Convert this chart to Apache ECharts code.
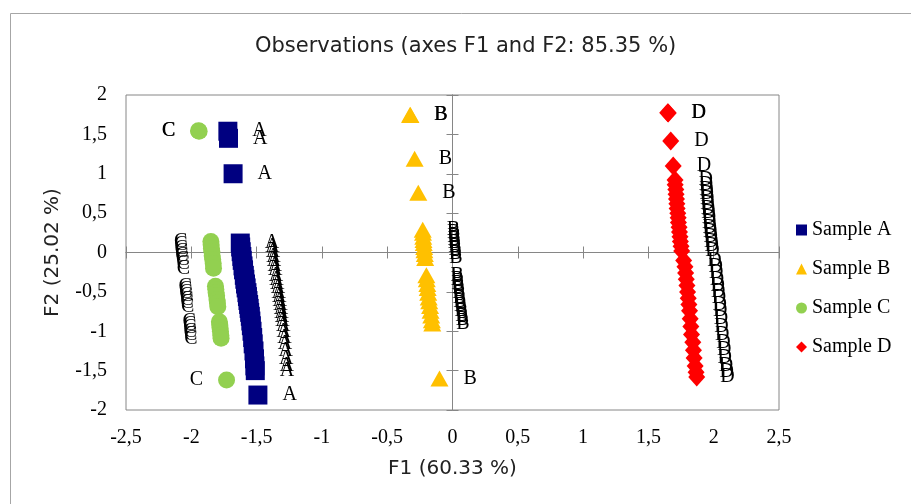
<!DOCTYPE html>
<html>
<head>
<meta charset="utf-8">
<script src="https://cdn.jsdelivr.net/npm/echarts@6/dist/echarts.min.js"></script>
<style>html,body{margin:0;padding:0;background:#fff;}#c{width:911px;height:504px;}</style>
</head>
<body>
<div id="c"></div>
<script>
// ---- data ----
var seriesNames = ['Sample A', 'Sample B', 'Sample C', 'Sample D'];
var pointLabels = ['A', 'B', 'C', 'D'];
var xTicks = [-2.5, -2, -1.5, -1, -0.5, 0, 0.5, 1, 1.5, 2, 2.5];
var yTicks = [-2, -1.5, -1, -0.5, 0, 0.5, 1, 1.5, 2];

var sampleA = [
  [-1.72, 1.54], [-1.715, 1.45], [-1.68, 1.00],
  [-1.625, 0.12], [-1.622, 0.07], [-1.618, 0.01], [-1.613, -0.05], [-1.61, -0.10],
  [-1.604, -0.17], [-1.60, -0.22], [-1.594, -0.29], [-1.59, -0.34], [-1.585, -0.40],
  [-1.58, -0.45], [-1.574, -0.51], [-1.57, -0.56], [-1.566, -0.61], [-1.561, -0.66],
  [-1.557, -0.71], [-1.553, -0.76], [-1.548, -0.81], [-1.544, -0.87], [-1.54, -0.93],
  [-1.535, -1.00], [-1.53, -1.08], [-1.526, -1.16], [-1.52, -1.25], [-1.516, -1.35],
  [-1.513, -1.44], [-1.51, -1.50],
  [-1.49, -1.81]
];
var sampleB = [
  [-0.325, 1.75], [-0.322, 1.745], [-0.29, 1.19], [-0.262, 0.76],
  [-0.228, 0.29], [-0.226, 0.25], [-0.224, 0.20], [-0.222, 0.16], [-0.22, 0.12],
  [-0.217, 0.07], [-0.215, 0.03], [-0.212, -0.02], [-0.209, -0.07],
  [-0.20, -0.29], [-0.197, -0.34], [-0.193, -0.40], [-0.19, -0.45], [-0.186, -0.51],
  [-0.182, -0.57], [-0.178, -0.62], [-0.172, -0.68], [-0.168, -0.74], [-0.163, -0.80],
  [-0.158, -0.86], [-0.155, -0.90],
  [-0.10, -1.60]
];
var sampleC = [
  [-1.945, 1.545], [-1.94, 1.54],
  [-1.85, 0.14], [-1.848, 0.10], [-1.846, 0.05], [-1.842, 0.01], [-1.84, -0.04],
  [-1.836, -0.09], [-1.832, -0.14], [-1.83, -0.20],
  [-1.815, -0.43], [-1.812, -0.47], [-1.81, -0.51], [-1.806, -0.55], [-1.803, -0.60],
  [-1.80, -0.64], [-1.797, -0.69],
  [-1.785, -0.88], [-1.782, -0.92], [-1.78, -0.96], [-1.777, -1.00], [-1.774, -1.05],
  [-1.772, -1.09],
  [-1.73, -1.62]
];
var sampleD = [
  [1.648, 1.775], [1.652, 1.77], [1.671, 1.416], [1.69, 1.10],
  [1.704, 0.92], [1.705, 0.86], [1.71, 0.80], [1.712, 0.74], [1.715, 0.68],
  [1.718, 0.62], [1.72, 0.56], [1.725, 0.50], [1.728, 0.44], [1.73, 0.38],
  [1.735, 0.32], [1.738, 0.26], [1.742, 0.20], [1.745, 0.14], [1.75, 0.08],
  [1.755, 0.02], [1.77, -0.10], [1.78, -0.18], [1.785, -0.26], [1.79, -0.34],
  [1.795, -0.42], [1.80, -0.50], [1.805, -0.58], [1.81, -0.66], [1.815, -0.74],
  [1.82, -0.84], [1.825, -0.94], [1.83, -1.04], [1.84, -1.14], [1.845, -1.24],
  [1.85, -1.34], [1.858, -1.44], [1.865, -1.52], [1.87, -1.58]
];
// ---- end data ----

var serif = 'Liberation Serif';
var sans = 'DejaVu Sans';
var gray = '#868686';
function fmt(v) { return String(v).replace('.', ','); }

function labelAxis(isX) {
  var t = isX ? xTicks : yTicks;
  var a = {
    type: 'value', min: t[0], max: t[t.length - 1], interval: t[1] - t[0],
    position: isX ? 'bottom' : 'left',
    axisLine: { show: false, onZero: false },
    axisTick: { show: false },
    splitLine: { show: false },
    axisLabel: { formatter: fmt, fontFamily: serif, fontSize: 20, color: '#000', margin: isX ? 18 : 19 },
    name: isX ? 'F1 (60.33 %)' : 'F2 (25.02 %)',
    nameLocation: 'middle',
    nameGap: isX ? 49 : 63,
    nameTextStyle: { fontFamily: sans, fontSize: 20, color: '#222' }
  };
  return a;
}
function zeroAxis(isX, pos) {
  var t = isX ? xTicks : yTicks;
  return {
    type: 'value', min: t[0], max: t[t.length - 1], interval: t[1] - t[0],
    position: pos,
    axisLine: { show: true, onZero: true, onZeroAxisIndex: 0, lineStyle: { color: gray, width: 1 } },
    axisTick: { show: true, length: 6, lineStyle: { color: gray, width: 1 } },
    axisLabel: { show: false },
    splitLine: { show: false }
  };
}

var colors = ['#000080', '#FFC000', '#92D050', '#FF0000'];
var symbols = ['rect', 'triangle', 'circle', 'diamond'];
var sizes = [19, [18, 16], 17, [17, 19]];
var datas = [sampleA, sampleB, sampleC, sampleD];

var series = datas.map(function (d, i) {
  return {
    name: seriesNames[i],
    type: 'scatter',
    xAxisIndex: 0, yAxisIndex: 0,
    data: d,
    symbol: symbols[i],
    symbolSize: sizes[i],
    itemStyle: { color: colors[i], opacity: 1 },
    label: {
      show: true,
      position: i === 2 ? 'left' : 'right',
      distance: 15,
      formatter: pointLabels[i],
      fontFamily: serif, fontSize: 20, color: '#000'
    },
    emphasis: { disabled: true },
    z: 3
  };
});

var chart = echarts.init(document.getElementById('c'), null, { renderer: 'canvas' });
chart.setOption({
  animation: false,
  backgroundColor: '#fff',
  title: {
    text: 'Observations (axes F1 and F2: 85.35 %)',
    left: 255, top: 36, padding: 0,
    textStyle: { fontFamily: sans, fontSize: 21, fontWeight: 'normal', color: '#222' }
  },
  graphic: [{
    type: 'rect', silent: true, z: -1,
    shape: { x: 10.5, y: 13.5, width: 1000, height: 1000 },
    style: { fill: 'none', stroke: '#a6a6a6', lineWidth: 1 }
  }],
  legend: {
    data: seriesNames,
    orient: 'vertical',
    left: 796, top: 220, padding: 0,
    itemWidth: 11, itemHeight: 11, itemGap: 19,
    textStyle: { fontFamily: serif, fontSize: 20, color: '#000', lineHeight: 20 }
  },
  grid: {
    left: 126, top: 95, width: 653, height: 315,
    show: true, borderColor: gray, borderWidth: 1, backgroundColor: 'transparent'
  },
  xAxis: [labelAxis(true), zeroAxis(true, 'bottom'), zeroAxis(true, 'top')],
  yAxis: [labelAxis(false), zeroAxis(false, 'left'), zeroAxis(false, 'right')],
  series: series
});
</script>
</body>
</html>
